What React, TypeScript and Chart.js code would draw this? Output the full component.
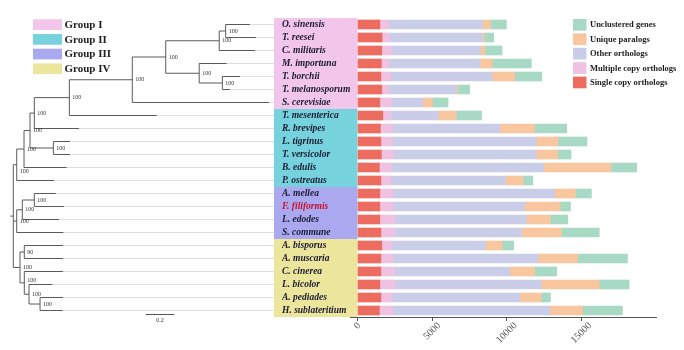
import React, { useEffect, useRef } from 'react';
import { Chart, registerables } from 'chart.js';
Chart.register(...registerables);

const species = ['O. sinensis', 'T. reesei', 'C. militaris', 'M. importuna', 'T. borchii', 'T. melanosporum', 'S. cerevisiae', 'T. mesenterica', 'R. brevipes', 'L. tigrinus', 'T. versicolor', 'B. edulis', 'P. ostreatus', 'A. mellea', 'F. filiformis', 'L. edodes', 'S. commune', 'A. bisporus', 'A. muscaria', 'C. cinerea', 'L. bicolor', 'A. pediades', 'H. sublateritium'];

const singleCopy = [1500, 1650, 1630, 1600, 1570, 1630, 1500, 1700, 1540, 1570, 1600, 1470, 1570, 1500, 1500, 1500, 1570, 1630, 1570, 1570, 1500, 1570, 1470];
const multipleCopy = [620, 500, 650, 550, 700, 500, 780, 550, 850, 780, 850, 800, 700, 900, 900, 1000, 930, 670, 830, 930, 1000, 730, 930];
const otherOrthologs = [6260, 6230, 5960, 6050, 6750, 4520, 2100, 3170, 7140, 9630, 9530, 10200, 7640, 10800, 8800, 8810, 8480, 6280, 9690, 7700, 9810, 8570, 10470];
const uniqueParalogs = [530, 120, 290, 820, 1510, 100, 640, 1200, 2340, 1440, 1440, 4510, 1180, 1400, 2380, 1600, 2670, 1110, 2660, 1670, 3890, 1440, 2220];
const unclustered = [1070, 630, 1160, 2630, 1820, 770, 1050, 1690, 2150, 1960, 890, 1730, 660, 1070, 690, 1180, 2550, 780, 3340, 1480, 2000, 620, 2660];

const seriesNames = ['Single copy orthologs', 'Multiple copy orthologs', 'Other orthologs', 'Unique paralogs', 'Unclustered genes'];
const seriesColors = ['#EC6C5F', '#F0C2E2', '#C9CDE7', '#F8C7A0', '#A8D9C4'];

const groupNames = ['Group I', 'Group II', 'Group III', 'Group IV'];
const groupFirst = [0, 7, 13, 17];
const groupLast = [6, 12, 16, 22];
const groupColors = ['#F2C5EA', '#76D2DC', '#AAA8EE', '#ECE59C'];
const highlightSpecies = 'F. filiformis';

const xTicks = [0, 5000, 10000, 15000];
const xMin = -500;
const xMax = 20000;

// phylogenetic tree: d = distance from root (substitutions/site), leaf = species index
type TNode = { d: number; leaf?: number; support?: string; dy?: number; kids?: TNode[] };
const Lf = (leaf: number, d: number): TNode => ({ leaf, d });
const Nd = (d: number, support: string, kids: TNode[], dy = 0): TNode => ({ d, support, kids, dy });

const tree: TNode = Nd(0, '', [
  Nd(0.024, '100', [
    Nd(0.075, '100', [
      Nd(0.117, '100', [
        Nd(0.147, '100', [
          Nd(0.392, '100', [
            Nd(0.832, '100', [
              Nd(1.066, '100', [
                Nd(1.44, '100', [Nd(1.485, '100', [Lf(0, 1.655), Lf(1, 1.697)]), Lf(2, 1.69)]),
                Nd(1.30, '100', [Lf(3, 1.492), Nd(1.462, '100', [Lf(4, 1.585), Lf(5, 1.515)])]),
              ]),
              Lf(6, 1.788),
            ]),
            Lf(7, 1.003),
          ]),
          Lf(8, 0.459),
        ]),
        Nd(0.28, '100', [Lf(9, 0.397), Lf(10, 0.397)]),
      ]),
      Lf(11, 0.373),
    ]),
    Lf(12, 0.285),
  ], 7),
  Nd(0.024, '100', [Nd(0.063, '100', [Nd(0.147, '100', [Lf(13, 0.297), Lf(14, 0.355)]), Lf(15, 0.32)]), Lf(16, 0.35)]),
  Nd(0.047, '100', [
    Nd(0.077, '90', [Lf(17, 0.348), Lf(18, 0.348)]),
    Nd(0.077, '100', [Lf(19, 0.348), Nd(0.11, '100', [Lf(20, 0.273), Nd(0.187, '100', [Lf(21, 0.348), Lf(22, 0.345)])])], -2),
  ]),
]);
const scaleBarValue = 0.2;

const SERIF = "'Liberation Serif', 'Times New Roman', serif";
const TREE_LEFT = 13.3;
const TREE_UNIT = 143;
const BOX_LEFT = 274;

const customPlugin = {
  id: 'customDraw',
  beforeDraw(chart: any) {
    const { ctx } = chart;
    const ys = chart.scales.y;
    const xs = chart.scales.x;
    const half = (ys.getPixelForValue(1) - ys.getPixelForValue(0)) / 2;
    const right = xs.getPixelForValue(0);
    ctx.save();
    groupFirst.forEach((f, i) => {
      const top = ys.getPixelForValue(f) - half;
      const bot = ys.getPixelForValue(groupLast[i]) + half;
      ctx.fillStyle = groupColors[i];
      ctx.fillRect(BOX_LEFT, top, right - BOX_LEFT, bot - top);
    });
    ctx.restore();
  },
  afterDraw(chart: any) {
    const { ctx } = chart;
    const ys = chart.scales.y;
    const xs = chart.scales.x;
    const tx = (d: number) => TREE_LEFT + d * TREE_UNIT;
    ctx.save();
    // guide lines & tree
    const guides: any[] = [];
    const branches: any[] = [];
    const labels: any[] = [];
    const walk = (n: TNode): number => {
      if (n.leaf !== undefined) {
        const y = ys.getPixelForValue(n.leaf);
        guides.push([tx(n.d), y]);
        return y;
      }
      const kidYs = (n.kids || []).map((k) => walk(k));
      const y0 = kidYs[0];
      const y1 = kidYs[kidYs.length - 1];
      const x = tx(n.d);
      branches.push([x, y0, x, y1]);
      (n.kids || []).forEach((k, i) => branches.push([x, kidYs[i], tx(k.d), kidYs[i]]));
      const my = (y0 + y1) / 2;
      if (n.support) labels.push([n.support, x + 3, my + (n.dy || 0)]);
      return my;
    };
    const rootY = walk(tree);
    branches.push([tx(0) - 3, rootY, tx(0), rootY]);

    ctx.strokeStyle = '#D6D6D6';
    ctx.lineWidth = 0.8;
    guides.forEach(([x, y]) => {
      ctx.beginPath();
      ctx.moveTo(x, y);
      ctx.lineTo(BOX_LEFT, y);
      ctx.stroke();
    });
    ctx.strokeStyle = '#5A5A5A';
    ctx.lineWidth = 1;
    branches.forEach(([a, b, c, d]) => {
      ctx.beginPath();
      ctx.moveTo(a, b);
      ctx.lineTo(c, d);
      ctx.stroke();
    });
    ctx.fillStyle = '#333';
    ctx.font = `6px ${SERIF}`;
    ctx.textAlign = 'left';
    ctx.textBaseline = 'middle';
    labels.forEach(([t, x, y]) => ctx.fillText(t, x, y));

    // scale bar
    const sbY = ys.getPixelForValue(22) + 4;
    const sbX = 145.7;
    ctx.strokeStyle = '#555';
    ctx.beginPath();
    ctx.moveTo(sbX, sbY);
    ctx.lineTo(sbX + scaleBarValue * TREE_UNIT, sbY);
    ctx.stroke();
    ctx.textAlign = 'center';
    ctx.fillText(String(scaleBarValue), sbX + (scaleBarValue * TREE_UNIT) / 2, sbY + 6);

    // group legend
    groupNames.forEach((g, i) => {
      const y = 19.3 + i * 14.7;
      ctx.fillStyle = groupColors[i];
      ctx.fillRect(33, y, 29, 10.7);
      ctx.fillStyle = '#1E1E1E';
      ctx.font = `bold 11px ${SERIF}`;
      ctx.textAlign = 'left';
      ctx.textBaseline = 'middle';
      ctx.fillText(g, 64.5, y + 5.8);
    });

    // series legend (reverse order)
    const order = [4, 3, 2, 1, 0];
    order.forEach((si, i) => {
      const y = 19 + i * 14.4;
      ctx.fillStyle = seriesColors[si];
      ctx.fillRect(573, y, 13.5, 11.7);
      ctx.fillStyle = '#1E1E1E';
      ctx.font = `bold 8.5px ${SERIF}`;
      ctx.textAlign = 'left';
      ctx.textBaseline = 'middle';
      ctx.fillText(seriesNames[si], 590, y + 6.2);
    });

    // x tick labels, rotated and centred on ticks
    const axisY = xs.top;
    ctx.fillStyle = '#555';
    ctx.font = `10px ${SERIF}`;
    ctx.textAlign = 'center';
    ctx.textBaseline = 'middle';
    xTicks.forEach((v) => {
      const px = xs.getPixelForValue(v);
      const t = String(v);
      const w = ctx.measureText(t).width;
      ctx.save();
      ctx.translate(px, axisY + 6 + (w * 0.7071) / 2 + 1);
      ctx.rotate(-Math.PI / 4);
      ctx.fillText(t, 0, 0);
      ctx.restore();
    });
    ctx.restore();
  },
};

export default function App() {
  const ref = useRef<HTMLCanvasElement | null>(null);
  useEffect(() => {
    document.body.style.margin = '0';
    if (!ref.current) return;
    const seriesData = [singleCopy, multipleCopy, otherOrthologs, uniqueParalogs, unclustered];
    const chart = new Chart(ref.current, {
      type: 'bar',
      data: {
        labels: species,
        datasets: seriesData.map((d, i) => ({
          label: seriesNames[i],
          data: d,
          backgroundColor: seriesColors[i],
          borderWidth: 0,
          barThickness: 9,
        })),
      },
      options: {
        indexAxis: 'y',
        animation: false,
        responsive: false,
        devicePixelRatio: 1,
        layout: { padding: { left: 282, right: 28, top: 18, bottom: 0 } },
        plugins: { legend: { display: false }, tooltip: { enabled: false } },
        scales: {
          x: {
            stacked: true,
            min: xMin,
            max: xMax,
            afterBuildTicks: (scale: any) => {
              scale.ticks = xTicks.map((v) => ({ value: v }));
            },
            afterFit: (scale: any) => {
              scale.height = 33;
            },
            ticks: { display: false },
            grid: { display: true, drawOnChartArea: false, drawTicks: true, tickLength: 4, color: '#555' },
            border: { display: true, color: '#555', width: 1 },
          },
          y: {
            stacked: true,
            afterFit: (scale: any) => {
              scale.width = 68;
            },
            grid: { display: false },
            border: { display: false },
            ticks: {
              crossAlign: 'far',
              autoSkip: false,
              padding: 0,
              color: (c: any) => (species[c.index] === highlightSpecies ? '#C8102E' : '#1A1A33'),
              font: { family: SERIF, size: 9.5, style: 'italic', weight: 'bold' },
            },
          },
        },
      },
      plugins: [customPlugin],
    } as any);
    return () => chart.destroy();
  }, []);
  return (
    <div style={{ width: 684, height: 350 }}>
      <canvas ref={ref} width={684} height={350} style={{ display: 'block' }} />
    </div>
  );
}
